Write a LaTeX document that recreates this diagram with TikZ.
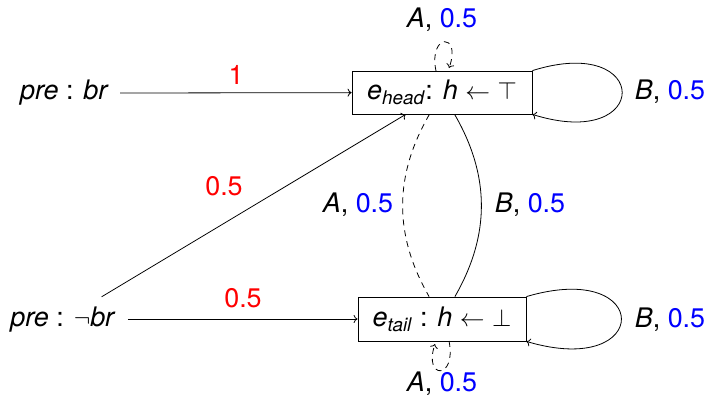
\documentclass[tikz,border=0pt]{standalone}
\usepackage{fontspec}
\setmainfont{TeX Gyre Heros}
\usetikzlibrary{arrows.meta}
\begin{document}
\begin{tikzpicture}[x=1bp,y=-1bp,
  every node/.style={font=\fontsize{27}{32}\selectfont},
  edge/.style={line width=0.8bp,-{To[length=4bp,width=8bp]}},
  plain/.style={line width=0.8bp},
  statebox/.style={draw,line width=0.8bp,rectangle,inner sep=2bp},
  txt/.style={inner sep=0pt},
  prenode/.style={inner sep=8bp,minimum height=46bp}]
\useasboundingbox (0,0) rectangle (710,400);
\node[statebox,minimum width=180bp,minimum height=43bp] (head) at (442,92.5)
  {\textit{e}\textsubscript{\textit{head}}: \textit{h} $\leftarrow$ $\top$};
\node[statebox,minimum width=168bp,minimum height=44bp] (tail) at (442,319)
  {\textit{e}\textsubscript{\textit{tail}} : \textit{h} $\leftarrow$ $\bot$};
\node[prenode,anchor=east] (pb) at (117,93) {\textit{pre} : \textit{br}};
\node[prenode] (pnb) at (63,320) {\textit{pre} : $\neg$\textit{br}};
% incoming edges
\draw[edge] (pb.east) ++(3,0) coordinate (pbs) -- (head);
\draw[edge] (pnb.east |- tail) ++(4,0) coordinate (pnbs) -- (tail);
\draw[edge] (pnb) -- (head);
\node[txt,text=red] (l1) at (236,75) {1};
\node[txt,text=red] (l2) at (224,186) {0.5};
\node[txt,text=red] (l3) at (243,298) {0.5};
% between states
\draw[plain,dashed,dash pattern=on 6bp off 5bp] (head) to[bend right=30] (tail);
\draw[plain] (head) to[bend left=30] (tail);
\node[txt] (la) at (358,205) {\textit{A}, \textcolor{blue}{0.5}};
\node[txt] (lb) at (530,205) {\textit{B}, \textcolor{blue}{0.5}};
% self loops A (dashed)
\coordinate (ht1) at (436,71);
\coordinate (ht2) at (449,68);
\draw[edge,dashed,dash pattern=on 6bp off 5bp] (ht1) .. controls (428,33) and (462,32) .. (ht2);
\node[txt] (lat) at (442,20) {\textit{A}, \textcolor{blue}{0.5}};
\coordinate (tb1) at (449,341);
\coordinate (tb2) at (435,344);
\draw[edge,dashed,dash pattern=on 6bp off 5bp] (tb1) .. controls (457,380) and (423,380) .. (tb2);
\node[txt] (lab) at (442,384) {\textit{A}, \textcolor{blue}{0.5}};
% self loops B
\draw[edge] (head.north east) .. controls (652,33) and (652,152) .. (head.south east);
\node[txt] (lbh) at (670,92) {\textit{B}, \textcolor{blue}{0.5}};
\draw[edge] (tail.north east) .. controls (653,259) and (653,379) .. (tail.south east);
\node[txt] (lbt) at (670,320) {\textit{B}, \textcolor{blue}{0.5}};
\end{tikzpicture}
\end{document}
